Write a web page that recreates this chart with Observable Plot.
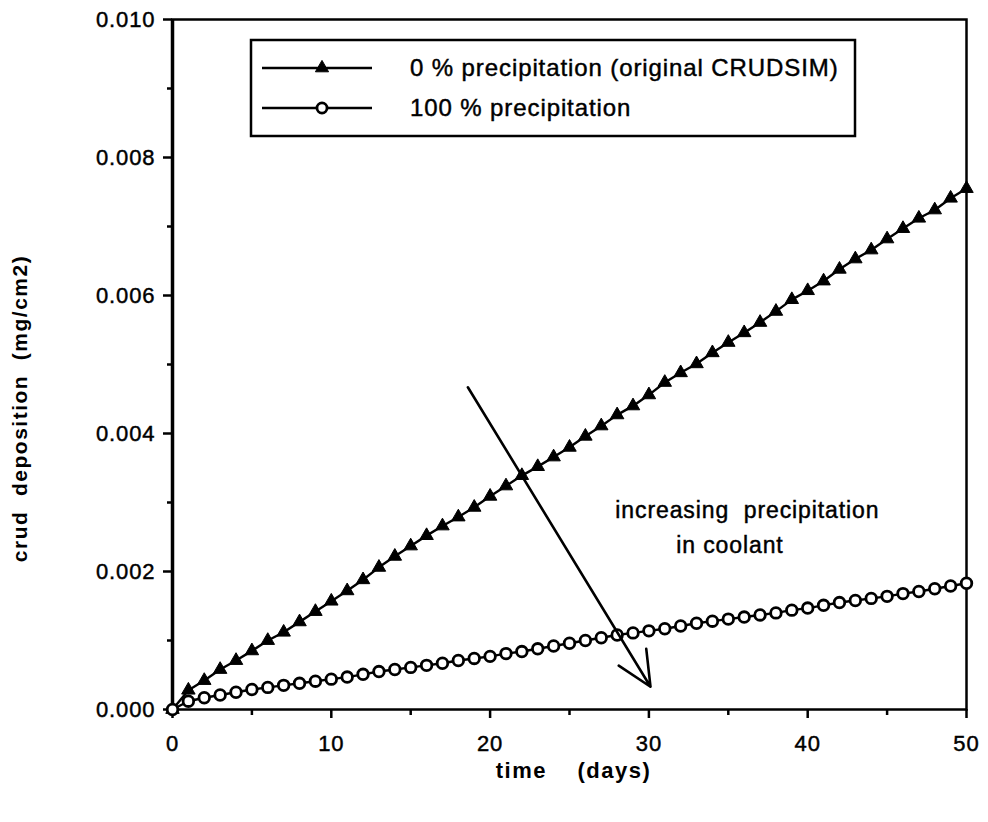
<!DOCTYPE html>
<html>
<head>
<meta charset="utf-8">
<script src="https://cdn.jsdelivr.net/npm/d3@7"></script>
<script src="https://cdn.jsdelivr.net/npm/@observablehq/plot@0.6"></script>
<style>
  html, body { margin: 0; padding: 0; background: #fff; }
  #chart { position: relative; width: 988px; height: 822px; }
  #chart > svg { position: absolute; left: 0; top: 0; }
  .crud text, .legend text { letter-spacing: 0.9px; stroke: #000; stroke-width: 0.45px; }
  .crud text.axis-title { letter-spacing: 1.5px; stroke: none; }
</style>
</head>
<body>
<div id="chart"></div>
<script>
// Simulation time (days)
const days = [0, 1, 2, 3, 4, 5, 6, 7, 8, 9, 10, 11, 12, 13, 14, 15, 16, 17, 18, 19, 20,
  21, 22, 23, 24, 25, 26, 27, 28, 29, 30, 31, 32, 33, 34, 35, 36, 37, 38, 39, 40,
  41, 42, 43, 44, 45, 46, 47, 48, 49, 50];

// Crud deposition (mg/cm2), 0 % precipitation (original CRUDSIM)
const depositionNoPrecip = [0, 0.00028, 0.00042, 0.00058, 0.00071, 0.00085, 0.00100, 0.00112,
  0.00127, 0.00142, 0.00157, 0.00172, 0.00188, 0.00206, 0.00222, 0.00237, 0.00252, 0.00266,
  0.00279, 0.00293, 0.00309, 0.00324, 0.00339, 0.00352, 0.00366, 0.00380, 0.00396, 0.00411,
  0.00427, 0.00440, 0.00456, 0.00474, 0.00488, 0.00501, 0.00517, 0.00532, 0.00546, 0.00561,
  0.00577, 0.00594, 0.00607, 0.00621, 0.00638, 0.00653, 0.00666, 0.00682, 0.00697, 0.00712,
  0.00724, 0.00741, 0.00755];

// Crud deposition (mg/cm2), 100 % precipitation
const depositionFullPrecip = [0, 0.00012, 0.00017, 0.00021, 0.00025, 0.00029, 0.00032, 0.00035,
  0.00038, 0.00041, 0.00044, 0.00047, 0.00051, 0.00055, 0.00058, 0.00061, 0.00064, 0.00067,
  0.00071, 0.00074, 0.00077, 0.00081, 0.00084, 0.00088, 0.00092, 0.00096, 0.00100, 0.00104,
  0.00108, 0.00111, 0.00114, 0.00117, 0.00121, 0.00125, 0.00128, 0.00131, 0.00134, 0.00137,
  0.00140, 0.00144, 0.00147, 0.00151, 0.00155, 0.00158, 0.00161, 0.00164, 0.00168, 0.00171,
  0.00175, 0.00179, 0.00183];

const xTicks = [0, 10, 20, 30, 40, 50];
const xMinorTicks = [5, 15, 25, 35, 45];
const yTicks = [0, 0.002, 0.004, 0.006, 0.008, 0.010];
const yMinorTicks = [0.001, 0.003, 0.005, 0.007, 0.009];

const seriesLabels = ["0 % precipitation (original CRUDSIM)", "100 % precipitation"];
const noteLines = ["increasing\u00a0\u00a0precipitation", "in coolant"];
const xLabel = "time\u00a0\u00a0\u00a0\u00a0(days)";
const yLabel = "crud\u00a0\u00a0deposition\u00a0\u00a0(mg/cm2)";

const rows = days.map((t, i) => ({t, none: depositionNoPrecip[i], full: depositionFullPrecip[i]}));

// Annotation: arrow pointing from the 0 % curve towards the 100 % curve
const trend = [{t1: 18.6, v1: 0.00467, t2: 30.1, v2: 0.00033}];
const notes = [
  {t: 36.2, v: 0.00288, label: noteLines[0]},
  {t: 35.1, v: 0.00238, label: noteLines[1]}
];

const font = "'Liberation Sans', Arial, Helvetica, sans-serif";

const chart = Plot.plot({
  width: 988,
  height: 822,
  marginLeft: 172,
  marginRight: 22,
  marginTop: 19,
  marginBottom: 113,
  className: "crud",
  style: {fontFamily: font, fontSize: "22px", color: "#000", background: "#fff"},
  x: {domain: [0, 50]},
  y: {domain: [0, 0.010]},
  marks: [
    Plot.axisX({ticks: xMinorTicks, tickSize: 6, tickFormat: () => "", label: null, strokeWidth: 2.5}),
    Plot.axisX({ticks: xTicks, tickSize: 9, tickPadding: 17, tickFormat: d => String(d), label: null, strokeWidth: 2.5}),
    Plot.axisY({ticks: yMinorTicks, tickSize: 5, tickFormat: () => "", label: null, strokeWidth: 2.5}),
    Plot.axisY({ticks: yTicks, tickSize: 9, tickPadding: 8, tickFormat: d3.format(".3f"), label: null, strokeWidth: 2.5}),
    Plot.frame({stroke: "#000", strokeWidth: 2.5}),
    Plot.ruleX([0], {stroke: "#000", strokeWidth: 3.5}),
    Plot.line(rows, {x: "t", y: "none", stroke: "#000", strokeWidth: 2.4}),
    Plot.line(rows, {x: "t", y: "full", stroke: "#000", strokeWidth: 2.4}),
    Plot.dot(rows, {x: "t", y: "none", symbol: "triangle", r: 5, fill: "#000", stroke: "#000", strokeWidth: 1}),
    Plot.dot(rows, {x: "t", y: "full", symbol: "circle", r: 5.3, fill: "#fff", stroke: "#000", strokeWidth: 2.8}),
    Plot.arrow(trend, {x1: "t1", y1: "v1", x2: "t2", y2: "v2", stroke: "#000", strokeWidth: 2.6, headLength: 22, headAngle: 50}),
    Plot.text(notes, {x: "t", y: "v", text: "label", fontSize: 23, fill: "#000"}),
    Plot.text([xLabel], {frameAnchor: "bottom", dy: 68, dx: 4, fontSize: 22, fontWeight: "bold", fill: "#000"}),
    Plot.text([yLabel], {frameAnchor: "left", textAnchor: "middle", dx: -152, dy: 44, rotate: -90, fontSize: 21, fontWeight: "bold", fill: "#000"})
  ]
});

// Axis titles get their own letter spacing
d3.select(chart).selectAll("text")
  .filter(function() { return this.textContent === xLabel || this.textContent === yLabel; })
  .classed("axis-title", true);

const container = document.getElementById("chart");
container.appendChild(chart);

// Legend box drawn over the plot area
const legend = d3.select(container).append("svg")
  .attr("class", "legend")
  .attr("width", 988).attr("height", 822)
  .style("pointer-events", "none")
  .style("font-family", font)
  .style("font-size", "24px");

legend.append("rect")
  .attr("x", 251).attr("y", 40).attr("width", 604).attr("height", 96)
  .attr("fill", "#fff").attr("stroke", "#000").attr("stroke-width", 2.5);

const legendRows = [
  {label: seriesLabels[0], y: 68, symbol: d3.symbolTriangle, fill: "#000", size: 75},
  {label: seriesLabels[1], y: 108, symbol: d3.symbolCircle, fill: "#fff", size: 80}
];

legendRows.forEach(row => {
  legend.append("line")
    .attr("x1", 262).attr("x2", 372).attr("y1", row.y).attr("y2", row.y)
    .attr("stroke", "#000").attr("stroke-width", 2.4);
  legend.append("path")
    .attr("d", d3.symbol(row.symbol, row.size)())
    .attr("transform", `translate(322,${row.y})`)
    .attr("fill", row.fill).attr("stroke", "#000").attr("stroke-width", row.fill === "#fff" ? 2.8 : 1);
  legend.append("text")
    .attr("x", 410).attr("y", row.y).attr("dy", "0.35em")
    .attr("fill", "#000")
    .text(row.label);
});
</script>
</body>
</html>
